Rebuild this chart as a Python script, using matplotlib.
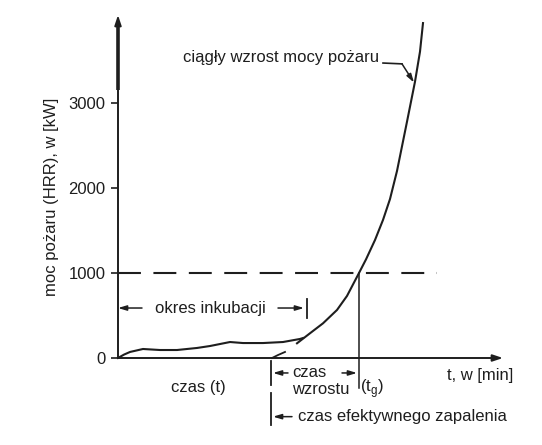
import numpy as np
import matplotlib
matplotlib.use('Agg')
import matplotlib.pyplot as plt

plt.rcParams['font.family'] = ['Liberation Sans', 'DejaVu Sans']

# data (schematic, t in arbitrary minutes, HRR in kW)
t_inc = [0, 0.6, 1.2, 2.5, 4.2, 5.9, 7.9, 9.2, 11.2, 12.5, 14.5, 16.5, 18.2, 18.5]
q_inc = [0, 40, 71, 106, 94, 94, 118, 141, 188, 176, 176, 188, 224, 235]

t_grow = [17.9, 19.2, 20.5, 21.9, 22.9, 24.1, 24.8, 25.7, 26.5, 27.2, 27.9, 28.9, 29.7, 30.2, 30.5]
q_grow = [173, 291, 408, 565, 730, 1000, 1160, 1388, 1624, 1870, 2200, 2780, 3251, 3604, 3940]

t_ext = [15.4, 16.0, 16.7]
q_ext = [0, 35, 71]

y_ticks = [0, 1000, 2000, 3000]
q_ref = 1000
t_g = 24.1
t_ign = 15.3
t_inc_end = 18.9

col = '#1e1e1e'
fs = 12

fig = plt.figure(figsize=(5.42, 4.45), dpi=100)
ax = fig.add_axes([118/542, 1-358/445, (505-118)/542, (358-15)/445])
ax.set_xlim(0, 38.7)
ax.set_ylim(0, 4035)
for s in ax.spines.values():
    s.set_visible(False)
ax.set_xticks([])
ax.set_yticks(y_ticks)
ax.set_yticklabels([str(v) for v in y_ticks], fontsize=fs, color=col)
ax.tick_params(axis='y', length=5, width=1.2, color=col, pad=4)

# axes with arrows
ax.annotate('', xy=(0, 4035), xytext=(0, 0), annotation_clip=False,
            arrowprops=dict(arrowstyle='-|>,head_length=0.6,head_width=0.2', color=col, lw=1.4, shrinkA=0, shrinkB=0))
ax.plot([0, 0], [3150, 3900], color=col, lw=2.6, clip_on=False, solid_capstyle='butt')
ax.annotate('', xy=(38.5, 0), xytext=(0, 0), annotation_clip=False,
            arrowprops=dict(arrowstyle='-|>,head_length=0.6,head_width=0.2', color=col, lw=1.4, shrinkA=0, shrinkB=0))

# curves
ax.plot(t_inc, q_inc, color=col, lw=1.5, clip_on=False, solid_joinstyle='round')
ax.plot(t_grow, q_grow, color=col, lw=1.5, clip_on=False, solid_joinstyle='round')
ax.plot(t_ext, q_ext, color=col, lw=1.3, clip_on=False)

# 1000 kW reference line
ax.plot([0, 31.9], [q_ref, q_ref], color=col, lw=1.5, dashes=(11, 6), clip_on=False)
ax.plot([t_g, t_g], [q_ref, -350], color=col, lw=1.1, clip_on=False)

# ignition marker
ax.plot([t_ign, t_ign], [-35, -318], color=col, lw=1.3, clip_on=False)
ax.plot([t_ign, t_ign], [-412, -790], color=col, lw=1.3, clip_on=False)

arw = dict(arrowstyle='-|>,head_length=0.5,head_width=0.15', color=col, lw=1.1, shrinkA=0, shrinkB=0)

# incubation period
ax.annotate('', xy=(0, 588), xytext=(2.4, 588), arrowprops=arw, annotation_clip=False)
ax.annotate('', xy=(18.6, 588), xytext=(16.0, 588), arrowprops=arw, annotation_clip=False)
ax.plot([t_inc_end, t_inc_end], [470, 690], color=col, lw=1.3)
ax.text(9.2, 588, 'okres inkubacji', fontsize=fs, color=col, ha='center', va='center')

# growth time
ax.annotate('', xy=(15.5, -176), xytext=(17.0, -176), arrowprops=arw, annotation_clip=False)
ax.annotate('', xy=(23.9, -176), xytext=(22.4, -176), arrowprops=arw, annotation_clip=False)
ax.text(17.4, -165, 'czas', fontsize=fs, color=col, ha='left', va='center')
ax.text(17.4, -375, 'wzrostu', fontsize=fs, color=col, ha='left', va='center')
ax.text(24.2, -355, '(t$_\\mathregular{g}$)', fontsize=fs, color=col, ha='left', va='center')

ax.annotate('', xy=(15.5, -690), xytext=(17.4, -690), arrowprops=arw, annotation_clip=False)
ax.text(18.0, -690, 'czas efektywnego zapalenia', fontsize=fs, color=col, ha='left', va='center')

ax.text(8.0, -350, 'czas (t)', fontsize=fs, color=col, ha='center', va='center')
ax.text(32.9, -200, 't, w [min]', fontsize=fs, color=col, ha='left', va='center')

# continuous growth label
ax.text(6.5, 3530, 'ciągły wzrost mocy pożaru', fontsize=fs, color=col, ha='left', va='center')
ax.plot([26.5, 28.4], [3470, 3460], color=col, lw=1.2)
ax.annotate('', xy=(29.6, 3240), xytext=(28.4, 3460), arrowprops=arw, annotation_clip=False)

fig.text(52/542, 1-197/445, 'moc pożaru (HRR), w [kW]', rotation=90, fontsize=fs,
         color=col, ha='center', va='center')

fig.savefig('out.png', dpi=100, facecolor='white')
